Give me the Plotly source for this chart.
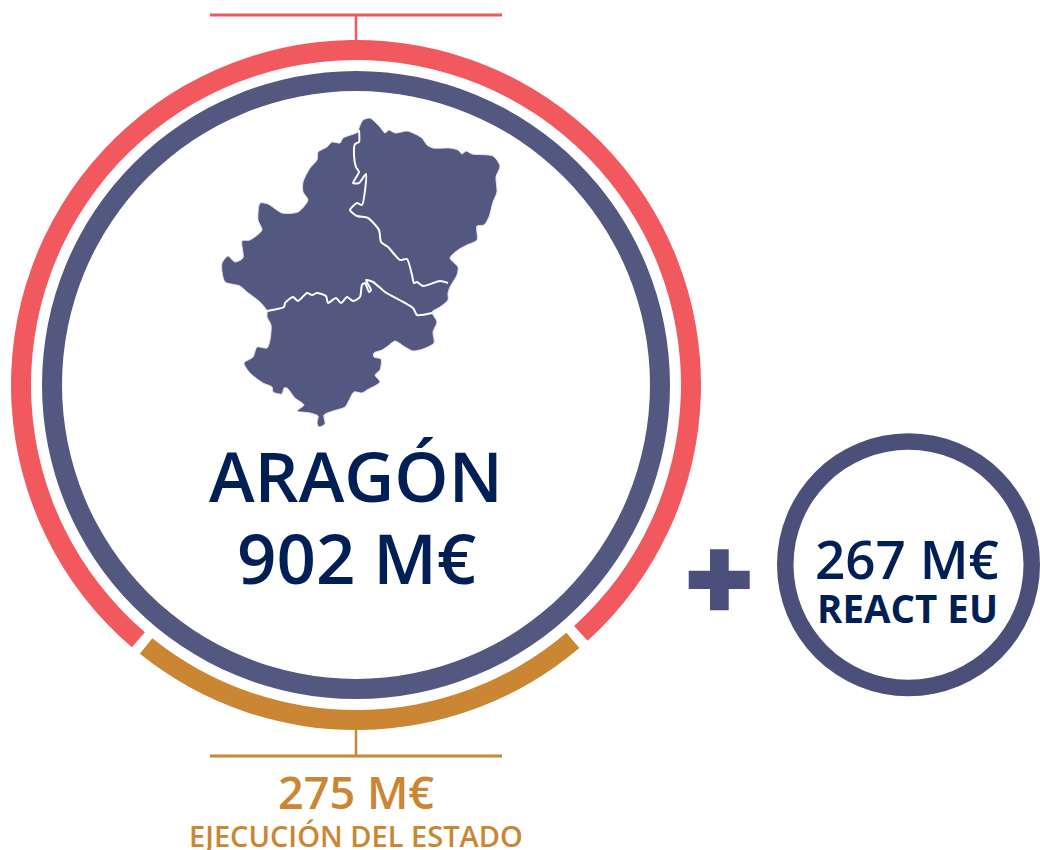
import plotly.graph_objects as go

W, H = 1040, 850
CORAL = "#F2595F"
ORANGE = "#CA8632"
SLATE = "#525880"
SLATE_DARK = "#4A5079"
NAVY = "#001F55"

# Ring segments (degrees of arc)
ring_labels = ["Ejecución del Estado", "gap a", "Resto", "gap b"]
ring_values = [79.15, 1.7, 277.35, 1.8]

main_title = "ARAGÓN"
main_value = "902 M€"
react_value = "267 M€"
react_label = "REACT EU"
state_value = "275 M€"
state_label = "EJECUCIÓN DEL ESTADO"

# Map outline
map_x = [359,363,370,375,380,385,389,395,407,413,422,427,433,450,458,462,466,472,493,500,496,497,493,489,484,477,477,467,458,450,458,457,
         450,448,448,440,432,437,433,434,423,413,405,395,388,382,374,374,381,380,375,380,367,362,354,345,333,324,325,319,317,318,310,297,304,295,287,284,282,273,272,263,250,244,253,257,267,270,271,267,267,260,247,240,225,222,222,
         228,235,243,242,250,262,258,260,268,282,298,308,303,303,310,317,318,327,332,340,343,358,359]
map_y = [128,120,118,122,127,133,130,133,131,133,138,145,148,148,150,154,151,154,156,166,177,192,202,217,225,226,240,245,250,258,267,275,
         287,293,300,307,312,322,332,343,349,351,347,341,346,350,353,357,359,370,375,382,390,393,392,407,411,415,424,427,423,416,413,411,405,398,388,388,394,392,387,383,373,363,357,347,348,340,325,317,311,302,292,286,282,272,263,
         256,262,258,241,240,230,220,203,204,213,212,200,192,182,168,160,152,147,142,143,138,132,128]

border_a_x = [359,359,355,354,356,359,353,359,366,362,357,350,357,368,379,381,388,400,407,412,414,417,423,440,448]
border_a_y = [130,142,144,155,167,172,183,183,174,205,203,210,216,218,230,242,247,260,259,275,283,282,286,281,283]
border_b_x = [267,284,285,293,298,307,312,317,326,328,336,341,347,353,360,362,365,369,371,366,373,385,413,417,432]
border_b_y = [311,307,303,297,301,293,295,293,296,303,298,303,297,301,297,285,283,292,290,280,282,292,308,315,313]


def domain(cx, cy, r):
    return dict(x=[(cx - r) / W, (cx + r) / W], y=[(H - cy - r) / H, (H - cy + r) / H])


fig = go.Figure()

fig.add_trace(go.Pie(
    labels=ring_labels, values=ring_values, sort=False, direction="clockwise", rotation=139.65,
    hole=325 / 345, domain=domain(356, 385, 345), textinfo="none", hoverinfo="skip", showlegend=False,
    marker=dict(colors=[ORANGE, "rgba(0,0,0,0)", CORAL, "rgba(0,0,0,0)"], line=dict(width=0)),
))
fig.add_trace(go.Pie(
    labels=["Aragón"], values=[902], hole=294 / 314, domain=domain(356, 385, 314),
    textinfo="none", hoverinfo="skip", showlegend=False, marker=dict(colors=[SLATE], line=dict(width=0)),
))
fig.add_trace(go.Pie(
    labels=["REACT EU"], values=[267], hole=115 / 131.5, domain=domain(908.5, 564.7, 131.5),
    textinfo="none", hoverinfo="skip", showlegend=False, marker=dict(colors=[SLATE_DARK], line=dict(width=0)),
))

fig.add_trace(go.Scatter(x=map_x, y=map_y, mode="lines", fill="toself", fillcolor=SLATE,
                         line=dict(color="#E9E1EE", width=1, shape="spline", smoothing=0.7),
                         hoverinfo="skip", showlegend=False))
for bx, by in [(border_a_x, border_a_y), (border_b_x, border_b_y)]:
    fig.add_trace(go.Scatter(x=bx, y=by, mode="lines", line=dict(color="white", width=2, shape="spline", smoothing=0.6),
                             hoverinfo="skip", showlegend=False))

shapes = [
    dict(type="line", x0=210, x1=502, y0=15, y1=15, line=dict(color=CORAL, width=3)),
    dict(type="line", x0=356, x1=356, y0=15, y1=40, line=dict(color=CORAL, width=2.5)),
    dict(type="line", x0=210, x1=502, y0=756, y1=756, line=dict(color=ORANGE, width=3)),
    dict(type="line", x0=356, x1=356, y0=730, y1=756, line=dict(color=ORANGE, width=2.5)),
    dict(type="rect", x0=688.7, x1=749.7, y0=570.7, y1=589, fillcolor=SLATE_DARK, line=dict(width=0)),
    dict(type="rect", x0=710, x1=728.7, y0=549.3, y1=610.3, fillcolor=SLATE_DARK, line=dict(width=0)),
]


def note(x, y, text, size, color, weight=600):
    return dict(x=x, y=y, text=text, showarrow=False, xanchor="center", yanchor="middle",
                font=dict(family="Open Sans", size=size, color=color, weight=weight))


annotations = [
    note(355.5, 475, main_title, 69, NAVY),
    note(356, 557, main_value, 69, NAVY),
    note(907, 558, react_value, 53, NAVY),
    note(907, 607.5, react_label, 38.5, NAVY, 700),
    note(356, 791, state_value, 45, ORANGE),
    note(356, 835, state_label, 29, ORANGE),
]

fig.update_layout(
    width=W, height=H, margin=dict(l=0, r=0, t=0, b=0),
    paper_bgcolor="white", plot_bgcolor="white", showlegend=False,
    xaxis=dict(range=[0, W], visible=False, fixedrange=True, domain=[0, 1]),
    yaxis=dict(range=[H, 0], visible=False, fixedrange=True, domain=[0, 1]),
    shapes=shapes, annotations=annotations,
)

fig.write_html("out.html", config=dict(displayModeBar=False),
               post_script="document.body.style.margin='0';document.body.style.overflow='hidden';")
